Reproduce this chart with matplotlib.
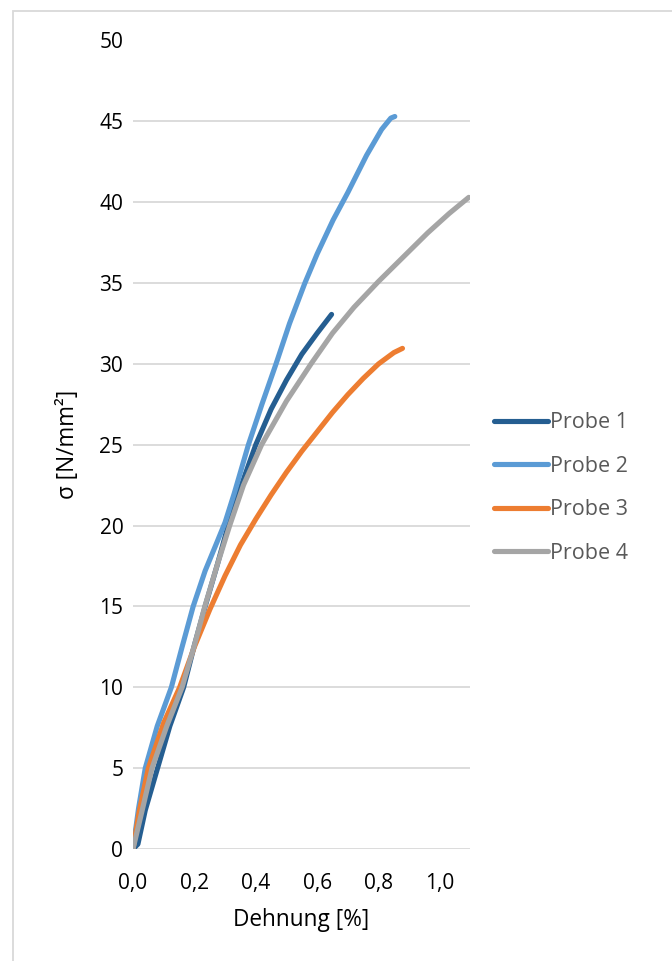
import matplotlib
matplotlib.use("Agg")
import matplotlib.pyplot as plt
from matplotlib.patches import Rectangle

plt.rcParams['font.family'] = ['Open Sans', 'DejaVu Sans']

# Stress-strain curves (strain in %, stress in N/mm²)
labels = ["Probe 1", "Probe 2", "Probe 3", "Probe 4"]
colors = ["#255E91", "#5B9BD5", "#ED7D31", "#A5A5A5"]

strain_1 = [0.0, 0.016, 0.04, 0.08, 0.12, 0.165, 0.20, 0.235, 0.275, 0.31, 0.355, 0.40, 0.45, 0.50, 0.55, 0.60, 0.647]
stress_1 = [0.0, 0.3, 2.4, 5.0, 7.6, 10.0, 12.6, 15.0, 17.6, 20.0, 22.6, 25.0, 27.2, 29.0, 30.6, 31.9, 33.06]

strain_2 = [0.0, 0.018, 0.040, 0.079, 0.125, 0.16, 0.196, 0.235, 0.272, 0.30, 0.33, 0.376, 0.42, 0.466,
            0.51, 0.56, 0.60, 0.652, 0.70, 0.761, 0.81, 0.84, 0.853]
stress_2 = [0.0, 2.5, 5.0, 7.6, 10.0, 12.5, 15.0, 17.2, 18.9, 20.2, 22.0, 25.0, 27.5, 30.0,
            32.5, 35.0, 36.8, 38.9, 40.6, 42.9, 44.5, 45.2, 45.3]

strain_3 = [0.0, 0.02, 0.05, 0.10, 0.152, 0.20, 0.25, 0.30, 0.35, 0.40, 0.45, 0.50, 0.55, 0.60,
            0.65, 0.70, 0.75, 0.80, 0.85, 0.878]
stress_3 = [0.0, 2.3, 5.0, 7.8, 10.0, 12.5, 14.8, 16.9, 18.8, 20.4, 21.9, 23.3, 24.6, 25.8,
            27.0, 28.1, 29.1, 30.0, 30.7, 30.96]

strain_4 = [0.0, 0.03, 0.062, 0.11, 0.16, 0.20, 0.234, 0.275, 0.315, 0.36, 0.419, 0.50, 0.58, 0.65,
            0.72, 0.80, 0.88, 0.96, 1.03, 1.094]
stress_4 = [0.0, 2.4, 5.0, 7.6, 10.0, 12.6, 15.0, 17.6, 20.0, 22.5, 25.0, 27.7, 30.0, 31.9,
            33.5, 35.1, 36.6, 38.1, 39.3, 40.3]

series = [(strain_1, stress_1), (strain_2, stress_2), (strain_3, stress_3), (strain_4, stress_4)]

x_ticks = [0.0, 0.2, 0.4, 0.6, 0.8, 1.0]
y_ticks = [0, 5, 10, 15, 20, 25, 30, 35, 40, 45, 50]

fig = plt.figure(figsize=(6.72, 9.61), dpi=100)
ax = fig.add_axes([133 / 672, 1 - 849 / 961, (470 - 133) / 672, (849 - 40.5) / 961])

for (xs, ys), lab, col in zip(series, labels, colors):
    ax.plot(xs, ys, color=col, lw=3.7, label=lab,
            solid_capstyle="round", solid_joinstyle="round", zorder=3)

ax.set_xlim(0, 1.098)
ax.set_ylim(0, 50)
ax.set_xticks(x_ticks)
ax.set_xticklabels([f"{v:.1f}".replace(".", ",") for v in x_ticks])
ax.set_yticks(y_ticks)
ax.set_yticklabels([str(v) for v in y_ticks])
ax.grid(axis="y", color="#D9D9D9", lw=1.3, zorder=0)
ax.set_axisbelow(True)
for s in ax.spines.values():
    s.set_visible(False)
ax.tick_params(length=0, labelsize=15, colors="#000000")
ax.tick_params(axis="y", pad=7)
ax.tick_params(axis="x", pad=17)

ax.set_xlabel("Dehnung [%]", fontsize=16.3, color="#000000", labelpad=10)
ax.set_ylabel("σ [N/mm²]", fontsize=16.3, color="#000000", labelpad=14)

leg = fig.legend(loc="center left", bbox_to_anchor=(494 / 672, 1 - 488 / 961),
                 frameon=False, fontsize=15.5, handlelength=2.5,
                 handletextpad=0.1, labelspacing=1.05, borderpad=0,
                 borderaxespad=0)
for t in leg.get_texts():
    t.set_color("#595959")

# chart-area border
fig.add_artist(Rectangle((13 / 672, -0.2), 1.5, 1.2 - 11 / 961,
                         transform=fig.transFigure, fill=False,
                         edgecolor="#D9D9D9", lw=1.3))

fig.savefig("out.png", dpi=100, facecolor="white")
